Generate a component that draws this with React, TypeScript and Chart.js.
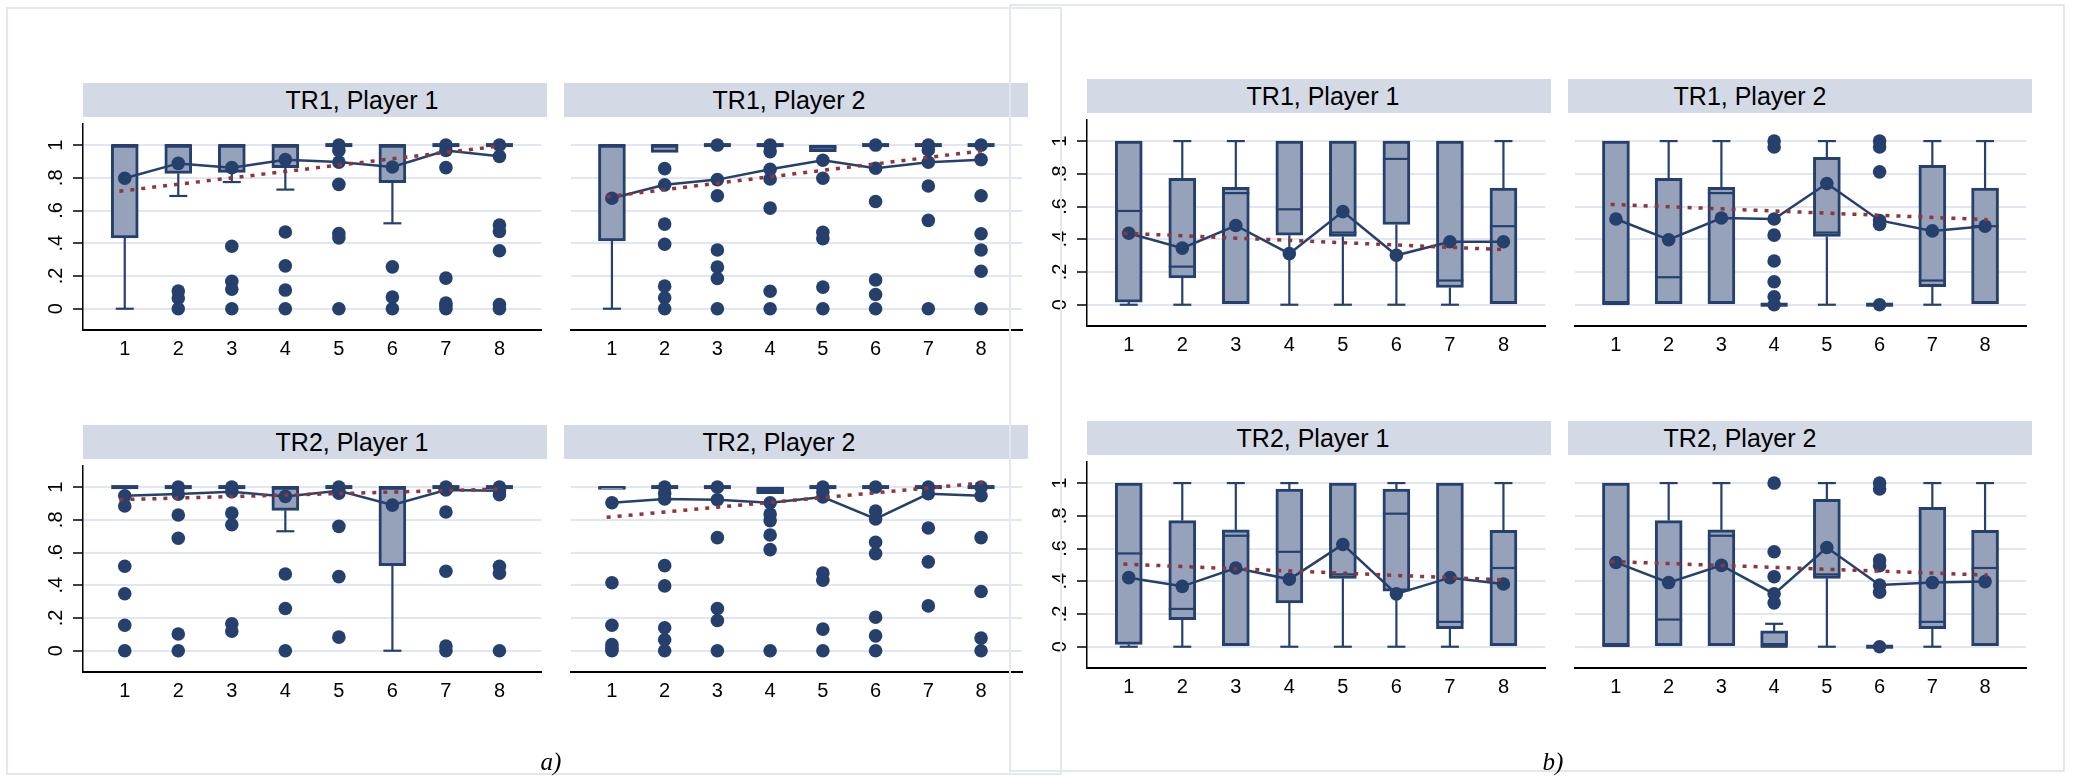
import React, { useEffect, useRef } from 'react';
import { Chart, registerables } from 'chart.js';

Chart.register(...registerables);

// ---------- shared data ----------
const CATEGORIES = [1, 2, 3, 4, 5, 6, 7, 8];
const Y_TICKS = [0, 0.2, 0.4, 0.6, 0.8, 1];
const Y_TICK_LABELS = ['0', '.2', '.4', '.6', '.8', '1'];
const TREND_X = [0.9, 8.05];
const PANEL_TITLES = ['TR1, Player 1', 'TR1, Player 2', 'TR2, Player 1', 'TR2, Player 2'];
const FIGURE_LABELS = ['a)', 'b)'];

// ---------- a) TR1, Player 1 ----------
const A1_Q1 = [0.433, 0.827, 0.833, 0.862, 1, 0.77, 1, 1];
const A1_MED = [1, 1, 1, 1, 1, 1, 1, 1];
const A1_Q3 = [1, 1, 1, 1, 1, 1, 1, 1];
const A1_LO = [0, 0.689, 0.774, 0.728, 1, 0.522, 1, 1];
const A1_HI = [1, 1, 1, 1, 1, 1, 1, 1];
const A1_MEAN = [0.797, 0.888, 0.862, 0.911, 0.896, 0.866, 0.967, 0.931];
const A1_OUT = [[], [0, 0.065, 0.108], [0, 0.12, 0.167, 0.382], [0, 0.114, 0.262, 0.469], [1, 0.967, 0.76, 0.459, 0.433, 0], [0.256, 0.071, 0], [1, 0.862, 0.187, 0.035, 0.02, 0], [1, 0.512, 0.472, 0.354, 0.026, 0]];
const A1_TREND = [0.718, 0.996];

// ---------- a) TR1, Player 2 ----------
const A2_Q1 = [0.414, 0.955, 1, 1, 0.96, 1, 1, 1];
const A2_MED = [1, 1, 1, 1, 0.985, 1, 1, 1];
const A2_Q3 = [1, 1, 1, 1, 1, 1, 1, 1];
const A2_LO = [0, 0.955, 1, 1, 0.96, 1, 1, 1];
const A2_HI = [1, 1, 1, 1, 1, 1, 1, 1];
const A2_MEAN = [0.675, 0.757, 0.789, 0.852, 0.907, 0.858, 0.895, 0.911];
const A2_OUT = [[], [0.856, 0.517, 0.394, 0.138, 0.067, 0], [1, 0.69, 0.359, 0.254, 0.185, 0], [1, 0.96, 0.793, 0.615, 0.107, 0], [0.797, 0.467, 0.428, 0.132, 0], [1, 0.655, 0.176, 0.087, 0], [1, 0.97, 0.75, 0.54, 0], [1, 0.69, 0.458, 0.359, 0.229, 0]];
const A2_TREND = [0.684, 0.966];

// ---------- a) TR2, Player 1 ----------
const A3_Q1 = [1, 1, 1, 0.858, 1, 0.52, 1, 1];
const A3_MED = [1, 1, 1, 1, 1, 1, 1, 1];
const A3_Q3 = [1, 1, 1, 1, 1, 1, 1, 1];
const A3_LO = [1, 1, 1, 0.73, 1, 0, 1, 1];
const A3_HI = [1, 1, 1, 1, 1, 1, 1, 1];
const A3_MEAN = [0.947, 0.957, 0.972, 0.943, 0.978, 0.89, 0.982, 0.978];
const A3_OUT = [[0.884, 0.516, 0.348, 0.156, 0], [1, 0.829, 0.687, 0.102, 0], [1, 0.841, 0.77, 0.165, 0.12], [0.469, 0.258, 0], [1, 0.963, 0.76, 0.453, 0.083], [], [1, 0.848, 0.486, 0.028, 0], [1, 0.953, 0.516, 0.474, 0]];
const A3_TREND = [0.923, 0.988];

// ---------- a) TR2, Player 2 ----------
const A4_Q1 = [0.985, 1, 1, 0.96, 1, 1, 1, 1];
const A4_MED = [1, 1, 1, 0.98, 1, 1, 1, 1];
const A4_Q3 = [1, 1, 1, 1, 1, 1, 1, 1];
const A4_LO = [0.985, 1, 1, 0.96, 1, 1, 1, 1];
const A4_HI = [1, 1, 1, 1, 1, 1, 1, 1];
const A4_MEAN = [0.904, 0.927, 0.923, 0.904, 0.939, 0.805, 0.959, 0.947];
const A4_OUT = [[0.415, 0.156, 0.037, 0.015, 0], [1, 0.96, 0.52, 0.396, 0.14, 0.067, 0], [1, 0.691, 0.258, 0.185, 0], [0.835, 0.795, 0.707, 0.618, 0], [1, 0.97, 0.474, 0.431, 0.132, 0], [1, 0.854, 0.663, 0.593, 0.205, 0.091, 0], [1, 0.75, 0.543, 0.274], [1, 0.691, 0.362, 0.077, 0]];
const A4_TREND = [0.815, 1.026];

// ---------- b) TR1, Player 1 ----------
const B1_Q1 = [0.016, 0.164, 0, 0.425, 0.417, 0.49, 0.105, 0];
const B1_MED = [0.573, 0.233, 0.682, 0.583, 0.441, 0.891, 0.148, 0.48];
const B1_Q3 = [1, 0.773, 0.717, 1, 1, 1, 1, 0.713];
const B1_LO = [0, 0, 0, 0, 0, 0, 0, 0];
const B1_HI = [1, 1, 1, 1, 1, 1, 1, 1];
const B1_MEAN = [0.437, 0.346, 0.484, 0.312, 0.569, 0.302, 0.385, 0.385];
const B1_OUT = [[], [], [], [], [], [], [], []];
const B1_TREND = [0.437, 0.336];

// ---------- b) TR1, Player 2 ----------
const B2_Q1 = [0, 0, 0, 0, 0.417, 0, 0.111, 0];
const B2_MED = [0.005, 0.168, 0.682, 0, 0.441, 0, 0.148, 0.48];
const B2_Q3 = [1, 0.773, 0.717, 0, 0.901, 0, 0.852, 0.713];
const B2_LO = [0, 0, 0, 0, 0, 0, 0, 0];
const B2_HI = [1, 1, 1, 0, 1, 0, 1, 1];
const B2_MEAN = [0.524, 0.397, 0.53, 0.524, 0.741, 0.515, 0.451, 0.48];
const B2_OUT = [[], [], [], [1, 0.964, 0.425, 0.267, 0.14, 0.049, 0], [], [1, 0.964, 0.812, 0.49, 0], [], []];
const B2_TREND = [0.613, 0.52];

// ---------- b) TR2, Player 1 ----------
const B3_Q1 = [0.014, 0.166, 0, 0.268, 0.418, 0.339, 0.11, 0];
const B3_MED = [0.57, 0.231, 0.678, 0.58, 0.442, 0.813, 0.152, 0.481];
const B3_Q3 = [1, 0.771, 0.714, 0.964, 1, 0.964, 1, 0.712];
const B3_LO = [0, 0, 0, 0, 0, 0, 0, 0];
const B3_HI = [1, 1, 1, 1, 1, 1, 1, 1];
const B3_MEAN = [0.422, 0.369, 0.481, 0.412, 0.625, 0.323, 0.422, 0.383];
const B3_OUT = [[], [], [], [], [], [], [], []];
const B3_TREND = [0.505, 0.408];

// ---------- b) TR2, Player 2 ----------
const B4_Q1 = [0, 0, 0, 0, 0.418, 0, 0.11, 0];
const B4_MED = [0.005, 0.166, 0.678, 0, 0.442, 0, 0.152, 0.481];
const B4_Q3 = [1, 0.771, 0.714, 0.097, 0.901, 0, 0.852, 0.712];
const B4_LO = [0, 0, 0, 0, 0, 0, 0, 0];
const B4_HI = [1, 1, 1, 0.14, 1, 0, 1, 1];
const B4_MEAN = [0.515, 0.392, 0.497, 0.323, 0.606, 0.377, 0.392, 0.398];
const B4_OUT = [[], [], [], [1, 0.58, 0.428, 0.268], [], [1, 0.964, 0.53, 0.495, 0.333, 0], [], []];
const B4_TREND = [0.521, 0.438];

// ---------- styles / layout ----------
const NAVY = '#26406e';
const BOX_FILL = '#95a2ba';
const RED = '#90353b';
const GRID = '#e1e6f0';
const HEADER_BG = '#d3d9e5';
const FRAME = '#e3e7f0';
const FONT = "'Liberation Sans', Arial, Helvetica, sans-serif";

const X_MIN = 0.22;
const X_MAX = 8.78;
const Y_MIN = -0.13;
const Y_MAX = 1.13;
const PLOT_W = 463;
const PLOT_H = 213;
const X_AXIS_H = 40;
const Y_AXIS_W = 60;
const HEADER_H = 34;
const BOX_W = 27;
const CAP_W = 18;

type PanelProps = {
  left: number; top: number; showY: boolean; title: string; titleX: number;
  q1: number[]; med: number[]; q3: number[]; lo: number[]; hi: number[];
  mean: number[]; out: number[][]; trend: number[];
};

function Panel(p: PanelProps) {
  const ref = useRef<HTMLCanvasElement>(null);
  const yw = p.showY ? Y_AXIS_W : 0;

  useEffect(() => {
    const canvas = ref.current;
    if (!canvas) return;
    const outliers: { x: number; y: number }[] = [];
    p.out.forEach((vals, i) => vals.forEach((v) => outliers.push({ x: CATEGORIES[i], y: v })));

    const boxPlugin = {
      id: 'boxWhisker',
      afterDatasetDraw(chart: any, args: any) {
        if (args.index !== 0) return;
        const xs = chart.scales.x;
        const ys = chart.scales.y;
        const ctx = chart.ctx;
        ctx.save();
        ctx.strokeStyle = NAVY;
        ctx.lineCap = 'butt';
        const line = (x1: number, y1: number, x2: number, y2: number, w: number) => {
          ctx.lineWidth = w;
          ctx.beginPath();
          ctx.moveTo(x1, y1);
          ctx.lineTo(x2, y2);
          ctx.stroke();
        };
        CATEGORIES.forEach((c, i) => {
          const x = xs.getPixelForValue(c);
          const pQ1 = ys.getPixelForValue(p.q1[i]);
          const pQ3 = ys.getPixelForValue(p.q3[i]);
          const pLo = ys.getPixelForValue(p.lo[i]);
          const pHi = ys.getPixelForValue(p.hi[i]);
          const pMed = ys.getPixelForValue(p.med[i]);
          if (p.hi[i] > p.q3[i]) {
            line(x, pQ3, x, pHi, 2.2);
            line(x - CAP_W / 2, pHi, x + CAP_W / 2, pHi, 2.2);
          }
          if (p.lo[i] < p.q1[i]) {
            line(x, pQ1, x, pLo, 2.2);
            line(x - CAP_W / 2, pLo, x + CAP_W / 2, pLo, 2.2);
          }
          const degenerate = p.q1[i] === p.q3[i];
          line(x - BOX_W / 2, pMed, x + BOX_W / 2, pMed, degenerate ? 4 : 2.2);
        });
        ctx.restore();
      },
    };

    const yLabelPlugin = {
      id: 'yLabels',
      afterDraw(chart: any) {
        if (!p.showY) return;
        const ys = chart.scales.y;
        const ctx = chart.ctx;
        ctx.save();
        ctx.fillStyle = '#000';
        ctx.font = `20px ${FONT}`;
        ctx.textAlign = 'center';
        ctx.textBaseline = 'middle';
        Y_TICKS.forEach((v, i) => {
          const y = ys.getPixelForValue(v);
          ctx.save();
          ctx.translate(chart.chartArea.left - 27, y);
          ctx.rotate(-Math.PI / 2);
          ctx.fillText(Y_TICK_LABELS[i], 0, 0);
          ctx.restore();
        });
        ctx.restore();
      },
    };

    const chart = new Chart(canvas, {
      type: 'bar',
      data: {
        datasets: [
          {
            type: 'bar',
            data: CATEGORIES.map((c, i) => ({ x: c, y: [p.q1[i], p.q3[i]] })) as any,
            backgroundColor: BOX_FILL,
            borderColor: NAVY,
            borderWidth: 3,
            borderSkipped: false,
            barThickness: BOX_W,
            order: 4,
          } as any,
          {
            type: 'line',
            data: outliers as any,
            showLine: false,
            pointRadius: 6.8,
            pointBackgroundColor: NAVY,
            pointBorderWidth: 0,
            order: 3,
          } as any,
          {
            type: 'line',
            data: CATEGORIES.map((c, i) => ({ x: c, y: p.mean[i] })) as any,
            borderColor: NAVY,
            borderWidth: 2.5,
            pointRadius: 6.8,
            pointBackgroundColor: NAVY,
            pointBorderWidth: 0,
            tension: 0,
            order: 2,
          } as any,
          {
            type: 'line',
            data: TREND_X.map((x, i) => ({ x, y: p.trend[i] })) as any,
            borderColor: RED,
            borderWidth: 3.5,
            borderDash: [4, 7],
            pointRadius: 0,
            order: 1,
          } as any,
        ],
      },
      options: {
        responsive: false,
        animation: false,
        devicePixelRatio: 1,
        events: [],
        layout: { padding: 0 },
        plugins: { legend: { display: false }, tooltip: { enabled: false }, title: { display: false } },
        scales: {
          x: {
            type: 'linear',
            min: X_MIN,
            max: X_MAX,
            offset: false,
            bounds: 'data',
            afterBuildTicks: (s: any) => { s.ticks = CATEGORIES.map((v) => ({ value: v })); },
            afterFit: (s: any) => { s.height = X_AXIS_H; },
            grid: { display: false, drawTicks: false },
            border: { display: true, color: '#000', width: 2 },
            ticks: {
              autoSkip: false, maxRotation: 0, minRotation: 0, padding: 7, color: '#000',
              font: { family: FONT, size: 20 },
              callback: (v: any) => String(v),
            },
          },
          y: {
            type: 'linear',
            min: Y_MIN,
            max: Y_MAX,
            bounds: 'data',
            afterBuildTicks: (s: any) => { s.ticks = Y_TICKS.map((v) => ({ value: v })); },
            afterFit: (s: any) => { s.width = yw; },
            grid: {
              display: true, color: GRID, lineWidth: 2, drawTicks: p.showY,
              tickLength: 10, tickColor: '#000', tickWidth: 1.5,
            },
            border: { display: p.showY, color: '#000', width: 1.5 },
            ticks: { display: false },
          },
        },
      } as any,
      plugins: [boxPlugin, yLabelPlugin],
    });
    return () => chart.destroy();
  }, []);

  return (
    <>
      <div
        style={{
          position: 'absolute', left: p.left, top: p.top - HEADER_H, width: PLOT_W + 1, height: HEADER_H - 0.5,
          background: HEADER_BG,
        }}
      >
        <span
          style={{
            position: 'absolute', left: p.titleX - p.left, top: 0, transform: 'translateX(-50%)',
            lineHeight: `${HEADER_H}px`, whiteSpace: 'nowrap', fontFamily: FONT, fontSize: 25, color: '#000',
          }}
        >
          {p.title}
        </span>
      </div>
      <canvas
        ref={ref}
        width={yw + PLOT_W + 2}
        height={PLOT_H + X_AXIS_H}
        style={{ position: 'absolute', left: p.left - yw, top: p.top }}
      />
    </>
  );
}

const LAYOUT = [
  { left: 83, top: 117, showY: true, titleX: 362 },
  { left: 564, top: 117, showY: false, titleX: 789 },
  { left: 83, top: 459, showY: true, titleX: 352 },
  { left: 564, top: 459, showY: false, titleX: 779 },
  { left: 1087, top: 113, showY: true, titleX: 1323 },
  { left: 1568, top: 113, showY: false, titleX: 1750 },
  { left: 1087, top: 455, showY: true, titleX: 1313 },
  { left: 1568, top: 455, showY: false, titleX: 1740 },
];

const PANEL_DATA = [
  { q1: A1_Q1, med: A1_MED, q3: A1_Q3, lo: A1_LO, hi: A1_HI, mean: A1_MEAN, out: A1_OUT, trend: A1_TREND },
  { q1: A2_Q1, med: A2_MED, q3: A2_Q3, lo: A2_LO, hi: A2_HI, mean: A2_MEAN, out: A2_OUT, trend: A2_TREND },
  { q1: A3_Q1, med: A3_MED, q3: A3_Q3, lo: A3_LO, hi: A3_HI, mean: A3_MEAN, out: A3_OUT, trend: A3_TREND },
  { q1: A4_Q1, med: A4_MED, q3: A4_Q3, lo: A4_LO, hi: A4_HI, mean: A4_MEAN, out: A4_OUT, trend: A4_TREND },
  { q1: B1_Q1, med: B1_MED, q3: B1_Q3, lo: B1_LO, hi: B1_HI, mean: B1_MEAN, out: B1_OUT, trend: B1_TREND },
  { q1: B2_Q1, med: B2_MED, q3: B2_Q3, lo: B2_LO, hi: B2_HI, mean: B2_MEAN, out: B2_OUT, trend: B2_TREND },
  { q1: B3_Q1, med: B3_MED, q3: B3_Q3, lo: B3_LO, hi: B3_HI, mean: B3_MEAN, out: B3_OUT, trend: B3_TREND },
  { q1: B4_Q1, med: B4_MED, q3: B4_Q3, lo: B4_LO, hi: B4_HI, mean: B4_MEAN, out: B4_OUT, trend: B4_TREND },
];

export default function App() {
  return (
    <div style={{ position: 'absolute', left: 0, top: 0, width: 2075, height: 779, background: '#fff', overflow: 'hidden' }}>
      {LAYOUT.map((l, i) => (
        <Panel key={i} {...l} title={PANEL_TITLES[i % 4]} {...PANEL_DATA[i]} />
      ))}
      {/* figure frames */}
      <div style={{ position: 'absolute', left: 6, top: 7, width: 1056, height: 768, boxSizing: 'border-box', border: `2px solid ${FRAME}`, pointerEvents: 'none' }} />
      <div style={{ position: 'absolute', left: 1009, top: 4, width: 1056, height: 768, boxSizing: 'border-box', border: `2px solid ${FRAME}`, pointerEvents: 'none' }} />
      <div style={{ position: 'absolute', left: 551, top: 762, transform: 'translate(-50%, -50%)', fontFamily: "'Liberation Serif', 'Times New Roman', serif", fontStyle: 'italic', fontSize: 25, color: '#000', whiteSpace: 'nowrap' }}>
        {FIGURE_LABELS[0]}
      </div>
      <div style={{ position: 'absolute', left: 1553, top: 762, transform: 'translate(-50%, -50%)', fontFamily: "'Liberation Serif', 'Times New Roman', serif", fontStyle: 'italic', fontSize: 25, color: '#000', whiteSpace: 'nowrap' }}>
        {FIGURE_LABELS[1]}
      </div>
    </div>
  );
}
